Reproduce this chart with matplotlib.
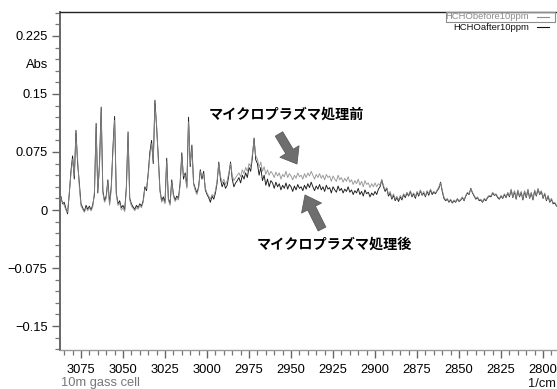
import numpy as np
import matplotlib
matplotlib.use("Agg")
import matplotlib.pyplot as plt
from matplotlib.ticker import FixedLocator, MultipleLocator, FuncFormatter
from matplotlib.patches import Rectangle
from matplotlib.lines import Line2D

# wavenumber grid, 1/cm (descending, 1 cm-1 step)
wn = np.arange(3088, 2791, -1)

# absorbance in mAbs, HCHO 10ppm before micro-plasma treatment
before_mabs = [
    14, 15, 10, 6, 0, -3, 22, 46, 66, 45,            # 3088
    96, 65, 30, 5, 1, -3, 3, -1, 3, -1,              # 3078
    4, 24, 105, 25, 55, 128, 22, 10, 15, 36,         # 3068
    6, 26, 76, 116, 20, 6, 9, 0, 3, -2,              # 3058
    26, 97, 13, 5, 2, -1, 3, 1, 6, 3,                # 3048
    10, 27, 28, 44, 70, 86, 64, 135, 110, 64,        # 3038
    24, 10, 14, 8, 63, 13, 6, 36, 18, 11,            # 3028
    15, 13, 32, 70, 44, 45, 28, 114, 60, 80,         # 3018
    33, 25, 20, 28, 50, 43, 47, 28, 22, 18,          # 3008
    14, 20, 18, 25, 38, 60, 44, 35, 40, 33,          # 2998
    38, 48, 60, 45, 38, 42, 45, 48, 43, 52,          # 2988
    47, 55, 50, 60, 56, 72, 90, 70, 66, 55,          # 2978
    62, 50, 56, 46, 52, 45, 50, 47, 42, 49,          # 2968
    44, 48, 40, 46, 43, 50, 42, 47, 44, 39,          # 2958
    45, 41, 48, 43, 45, 40, 47, 42, 48, 44,          # 2948
    50, 45, 40, 46, 42, 47, 41, 45, 39, 46,          # 2938
    42, 44, 37, 44, 40, 37, 45, 39, 42, 36,          # 2928
    41, 37, 43, 36, 39, 33, 38, 34, 40, 32,          # 2918
    37, 30, 38, 33, 35, 29, 34, 30, 35, 30,          # 2908
    34, 32, 39, 32, 26, 29, 20, 24, 16, 21,          # 2898
    14, 18, 13, 19, 15, 21, 18, 23, 19, 25,          # 2888
    19, 22, 17, 24, 20, 26, 20, 24, 18, 25,          # 2878
    21, 27, 22, 24, 22, 26, 30, 35, 26, 17,          # 2868
    13, 15, 11, 14, 10, 13, 11, 15, 12, 14,          # 2858
    17, 13, 19, 23, 21, 27, 23, 19, 15, 17,          # 2848
    13, 14, 11, 15, 13, 17, 19, 18, 23, 20,          # 2838
    21, 17, 15, 19, 16, 21, 17, 23, 18, 27,          # 2828
    17, 25, 15, 26, 18, 24, 14, 25, 17, 27,          # 2818
    16, 23, 14, 26, 19, 28, 21, 25, 16, 22,          # 2808
    13, 19, 11, 15, 9, 10, 6,                        # 2798
]

# absorbance in mAbs, HCHO 10ppm after micro-plasma treatment
after_mabs = [
    12, 18, 8, 10, 2, -5, 20, 50, 70, 40,            # 3088
    103, 60, 35, 8, 3, -2, 6, 1, 5, 0,               # 3078
    7, 20, 112, 22, 60, 133, 25, 12, 18, 39,         # 3068
    8, 30, 80, 121, 22, 8, 12, 3, 6, 0,              # 3058
    30, 101, 15, 8, 4, 1, 6, 3, 8, 5,                # 3048
    12, 30, 25, 48, 75, 90, 60, 142, 107, 69,        # 3038
    26, 12, 17, 10, 67, 15, 8, 39, 20, 13,           # 3028
    18, 15, 35, 74, 40, 48, 30, 120, 56, 84,         # 3018
    35, 28, 22, 30, 52, 40, 50, 26, 20, 16,          # 3008
    10, 18, 14, 22, 35, 62, 40, 30, 36, 28,          # 2998
    32, 45, 62, 40, 30, 35, 38, 42, 35, 45,          # 2988
    40, 48, 42, 55, 50, 68, 93, 65, 60, 45,          # 2978
    55, 38, 45, 32, 40, 30, 38, 35, 28, 36,          # 2968
    30, 34, 26, 32, 28, 35, 27, 33, 30, 24,          # 2958
    31, 26, 33, 28, 30, 25, 32, 27, 34, 29,          # 2948
    36, 30, 25, 31, 27, 33, 26, 30, 24, 32,          # 2938
    27, 29, 22, 30, 26, 23, 31, 25, 28, 22,          # 2928
    27, 24, 30, 23, 26, 20, 25, 22, 28, 20,          # 2918
    24, 18, 26, 21, 23, 17, 22, 19, 24, 20,          # 2908
    27, 30, 39, 30, 24, 28, 18, 22, 14, 19,          # 2898
    12, 16, 11, 17, 13, 20, 16, 22, 18, 24,          # 2888
    17, 21, 15, 23, 18, 25, 19, 22, 17, 24,          # 2878
    19, 26, 20, 23, 21, 25, 28, 36, 24, 15,          # 2868
    12, 14, 10, 13, 9, 12, 10, 14, 11, 13,           # 2858
    16, 12, 18, 22, 20, 28, 22, 18, 14, 16,          # 2848
    12, 13, 10, 14, 12, 16, 18, 17, 22, 19,          # 2838
    20, 16, 14, 18, 15, 20, 16, 22, 17, 26,          # 2828
    16, 24, 14, 25, 17, 23, 13, 24, 16, 26,          # 2818
    15, 22, 13, 25, 18, 27, 20, 24, 15, 21,          # 2808
    12, 18, 10, 14, 8, 9, 5,                         # 2798
]

before = np.array(before_mabs) / 1000.0
after = np.array(after_mabs) / 1000.0

yticks = [-0.15, -0.075, 0, 0.075, 0.15, 0.225]
xticks = np.arange(3075, 2799, -25)

W, H = 557, 389
fig = plt.figure(figsize=(W / 100, H / 100), dpi=100)
ax = fig.add_axes([60 / W, 1 - 350 / H, 1 - 60 / W, (350 - 12) / H])

ax.plot(wn, after, color="#1a1a1a", lw=0.65, zorder=2)
ax.plot(wn, before, color="#8c8c8c", lw=0.65, zorder=3, alpha=0.9)

ax.set_xlim(3087.5, 2791.7)
ax.set_ylim(-0.181, 0.256)

tickfont = "Liberation Sans"
ax.yaxis.set_major_locator(FixedLocator(yticks))
ax.yaxis.set_minor_locator(MultipleLocator(0.015))
ax.yaxis.set_major_formatter(FuncFormatter(lambda v, p: f"{v:g}".replace("-", "\u2212")))
ax.xaxis.set_major_locator(FixedLocator(xticks))
ax.xaxis.set_minor_locator(MultipleLocator(5))

ax.tick_params(axis="both", which="major", direction="out", length=6, width=1.0,
               color="#666666", labelsize=9.3, pad=3)
ax.tick_params(axis="both", which="minor", direction="out", length=3.5, width=0.9,
               color="#777777")
ax.tick_params(axis="x", which="major", pad=4)
for lab in ax.get_xticklabels() + ax.get_yticklabels():
    lab.set_fontfamily(tickfont)

ax.spines["right"].set_visible(False)
ax.spines["left"].set_color("#666666")
ax.spines["left"].set_linewidth(1.4)
ax.spines["bottom"].set_color("#9a9a9a")
ax.spines["bottom"].set_linewidth(1.0)
ax.spines["top"].set_color("#222222")
ax.spines["top"].set_linewidth(1.0)

ax.annotate("Abs", xy=(0, 0.1875), xycoords=ax.get_yaxis_transform(),
            xytext=(-12, 0), textcoords="offset pixels", ha="right", va="center",
            fontsize=9.3, family=tickfont)

fig.text(61 / W, 1 - 383 / H, "10m gass cell", color="#777777", fontsize=9.3,
         family=tickfont, ha="left", va="center")
fig.text(556 / W, 1 - 384 / H, "1/cm", color="#111111", fontsize=9.3,
         family=tickfont, ha="right", va="center")

# legend: text then line sample, first entry boxed
fig.text(529 / W, 1 - 16.5 / H, "HCHObefore10ppm", color="#8c8c8c", fontsize=6.8,
         family=tickfont, ha="right", va="center")
fig.text(529 / W, 1 - 27 / H, "HCHOafter10ppm", color="#111111", fontsize=6.8,
         family=tickfont, ha="right", va="center")
fig.add_artist(Line2D([537 / W, 549 / W], [1 - 16.5 / H, 1 - 16.5 / H],
                      color="#8c8c8c", lw=0.8, transform=fig.transFigure))
fig.add_artist(Line2D([537 / W, 549 / W], [1 - 27 / H, 1 - 27 / H],
                      color="#111111", lw=0.8, transform=fig.transFigure))
fig.add_artist(Rectangle((446 / W, 1 - 21.5 / H), 109 / W, 9.5 / H, fill=False,
                         ec="#8c8c8c", lw=0.8, transform=fig.transFigure))

# annotations
jp = ["Noto Sans CJK JP", "DejaVu Sans"]
fig.text(286.5 / W, 1 - 115 / H, "マイクロプラズマ処理前", fontsize=10.2,
         fontweight="bold", family=jp, ha="center", va="center")
fig.text(334.5 / W, 1 - 245 / H, "マイクロプラズマ処理後", fontsize=10.2,
         fontweight="bold", family=jp, ha="center", va="center")

arrow_kw = dict(arrowstyle="simple,head_width=1.6,head_length=1.05,tail_width=0.62",
                mutation_scale=10, fc="#6e6e6e", ec="#5a5a5a", lw=0.6,
                shrinkA=0, shrinkB=0)
ax.annotate("", xy=(297, H - 164), xycoords="figure pixels",
            xytext=(279, H - 134), textcoords="figure pixels", arrowprops=arrow_kw)
ax.annotate("", xy=(305, H - 195), xycoords="figure pixels",
            xytext=(322, H - 229), textcoords="figure pixels", arrowprops=arrow_kw)

fig.savefig("out.png", dpi=100)
